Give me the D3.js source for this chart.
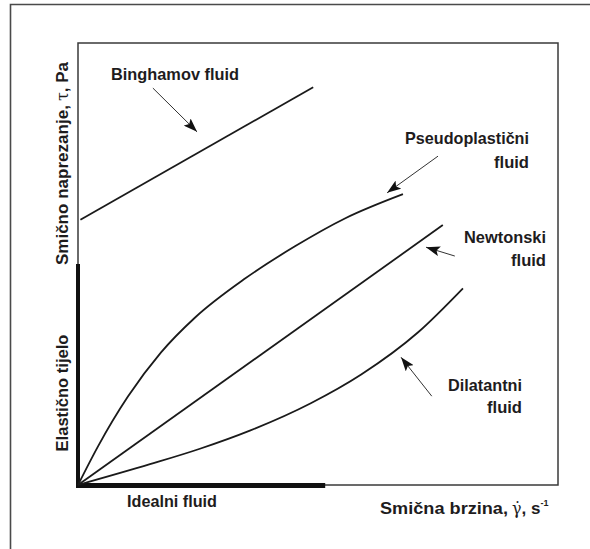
<!DOCTYPE html>
<html><head><meta charset="utf-8">
<script src="https://cdn.jsdelivr.net/npm/d3@7"></script>
<style>body{margin:0;background:#fff}svg{display:block}text{font-family:"Liberation Sans Narrow","Liberation Sans",Arial,sans-serif;font-weight:bold;fill:#1e1c1d}</style>
</head><body><svg id="c" width="590" height="549"></svg>
<script>
// Data (arbitrary units, x: shear rate 0-100, y: shear stress 0-100)
const binghamX = [0.5, 49];
const binghamY = [60, 90];
const newtonX = [0, 76];
const newtonY = [0, 58.8];
const pseudoX = [0, 4.2, 10.4, 17.3, 24.4, 34.8, 45.2, 55.6, 67.7];
const pseudoY = [0, 8.8, 20.0, 30.0, 37.9, 46.7, 54.0, 60.3, 65.8];
const dilatX = [0, 15.0, 25.4, 35.8, 48.5, 59.0, 70.8, 80.2];
const dilatY = [0, 4.7, 8.2, 12.3, 18.5, 25.0, 34.5, 44.5];
// thick segments: elastic body (vertical) and ideal fluid (horizontal)
const elasticY = [0, 50];
const idealX = [0, 51.5];
// annotation arrows: tail -> tip (data units)
const arrowTail = [[15.6, 89.8], [75.0, 74.4], [78.5, 51.8], [73.7, 20.1]];
const arrowTip  = [[24.8, 79.9], [64.4, 66.1], [72.5, 53.8], [67.3, 28.9]];
const labels = ["Binghamov fluid", "Pseudoplastični|fluid", "Newtonski|fluid", "Dilatantni|fluid"];

const svg = d3.select("#c");
const x = d3.scaleLinear().domain([0, 100]).range([78, 558]);
const y = d3.scaleLinear().domain([0, 100]).range([485, 43]);

// outer frame (clipped on right/bottom)
svg.append("path").attr("d", "M10.5,549 L10.5,4.5 L590,4.5").attr("fill", "none").attr("stroke", "#4a4a4a").attr("stroke-width", 1.6);

// inner box
svg.append("rect").attr("x", x(0)).attr("y", y(100)).attr("width", x(100) - x(0)).attr("height", y(0) - y(100))
  .attr("fill", "none").attr("stroke", "#3a3a3a").attr("stroke-width", 1.5);

// thick segments
svg.append("line").attr("x1", x(0)).attr("x2", x(0)).attr("y1", y(0) + 2.5).attr("y2", y(elasticY[1]))
  .attr("stroke", "#111").attr("stroke-width", 4);
svg.append("line").attr("x1", x(0) - 2).attr("x2", x(idealX[1])).attr("y1", y(0) + 0.5).attr("y2", y(0) + 0.5)
  .attr("stroke", "#111").attr("stroke-width", 5);

const line = d3.line().x(d => x(d[0])).y(d => y(d[1])).curve(d3.curveMonotoneX);
const series = [
  d3.zip(binghamX, binghamY),
  d3.zip(newtonX, newtonY),
  d3.zip(pseudoX, pseudoY),
  d3.zip(dilatX, dilatY)
];
svg.selectAll("path.s").data(series).join("path").attr("class", "s")
  .attr("d", line).attr("fill", "none").attr("stroke", "#1a1a1a").attr("stroke-width", 1.8);

// arrows
svg.append("defs").append("marker").attr("id", "ah").attr("viewBox", "0 0 14 10").attr("refX", 14).attr("refY", 5)
  .attr("markerWidth", 14).attr("markerHeight", 10).attr("markerUnits", "userSpaceOnUse").attr("orient", "auto")
  .append("path").attr("d", "M0,0 L14,5 L0,10 L3,5 Z").attr("fill", "#111");
arrowTail.forEach((t, i) => {
  svg.append("line").attr("x1", x(t[0])).attr("y1", y(t[1])).attr("x2", x(arrowTip[i][0])).attr("y2", y(arrowTip[i][1]))
    .attr("stroke", "#333").attr("stroke-width", 1).attr("marker-end", "url(#ah)");
});

// labels
function lbl(txt, px, py, anchor, size, len) {
  const t = svg.append("text").attr("x", px).attr("y", py).attr("text-anchor", anchor).attr("font-size", size).text(txt);
  if (len) t.attr("textLength", len).attr("lengthAdjust", "spacingAndGlyphs");
  return t;
}
lbl(labels[0], 111, 80, "start", 17, 128);
const pl = labels[1].split("|");
lbl(pl[0], 529, 144, "end", 17, 124);
lbl(pl[1], 529, 168, "end", 17, 35);
const nl = labels[2].split("|");
lbl(nl[0], 546, 243, "end", 17, 82);
lbl(nl[1], 546, 266, "end", 17, 35);
const dl = labels[3].split("|");
lbl(dl[0], 522, 391, "end", 17, 74);
lbl(dl[1], 522, 413, "end", 17, 35);
lbl("Idealni fluid", 127, 507, "start", 17, 90);

// x axis title
const xt = svg.append("text").attr("x", 380).attr("y", 514).attr("font-size", 17);
xt.append("tspan").attr("textLength", 128).attr("lengthAdjust", "spacingAndGlyphs").text("Smična brzina,");
xt.append("tspan").attr("font-family", "'DejaVu Serif',serif").attr("font-weight", "normal").attr("font-size", 16).attr("dx", 4).text("\u03B3\u0307");
xt.append("tspan").text(", s");
xt.append("tspan").attr("font-size", 9).attr("dy", -8).text("-1");

// y axis title
const yt = svg.append("text").attr("transform", "translate(68,62) rotate(-90)").attr("text-anchor", "end").attr("font-size", 17);
yt.append("tspan").attr("textLength", 160).attr("lengthAdjust", "spacingAndGlyphs").text("Smično naprezanje,");
yt.append("tspan").attr("font-family", "'DejaVu Serif',serif").attr("font-weight", "normal").attr("font-size", 16).attr("dx", 4).text("\u03C4");
yt.append("tspan").text(", Pa");

svg.append("text").attr("transform", "translate(68,393) rotate(-90)").attr("text-anchor", "middle").attr("font-size", 17)
  .attr("textLength", 117).attr("lengthAdjust", "spacingAndGlyphs").text("Elastično tijelo");
</script></body></html>
